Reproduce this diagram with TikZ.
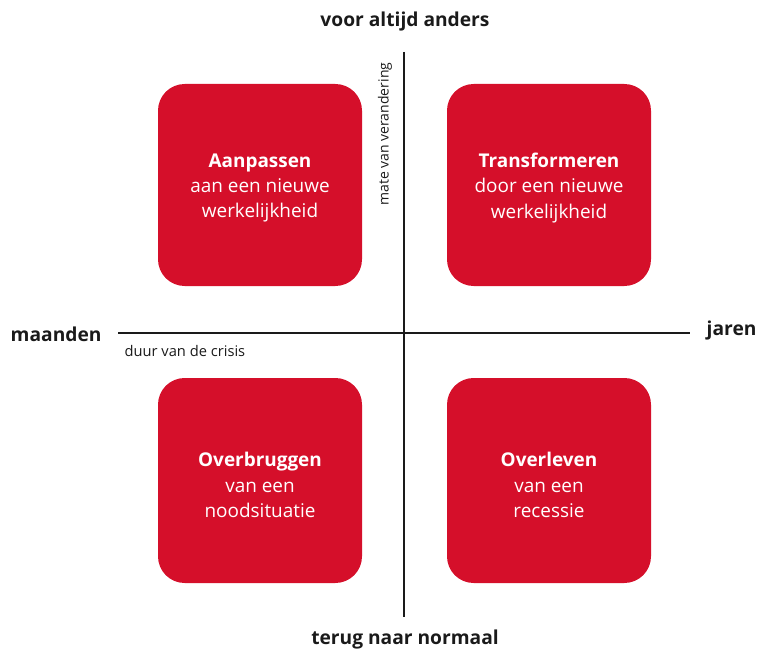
\documentclass[tikz,border=0pt]{standalone}
\usepackage{fontspec}
\setmainfont{Open Sans}
\definecolor{boxred}{HTML}{D50F2A}
\definecolor{axisgray}{HTML}{1A1A1A}
\begin{document}
\begin{tikzpicture}[x=0.75pt,y=-0.75pt,
  quad/.style={fill=boxred, rounded corners=20pt, draw=none},
  quadtext/.style={text=white, align=center, font=\fontsize{14.2}{19}\selectfont},
  axisline/.style={draw=axisgray, line width=2.2pt},
  endlabel/.style={font=\fontsize{14.4}{16}\bfseries\selectfont, text=axisgray},
  axislabel/.style={font=\fontsize{11}{12}\selectfont, text=axisgray}]
\useasboundingbox (0,0) rectangle (760,656);
% boxes
\fill[quad] (158,84) rectangle (362,286);
\fill[quad] (447,84) rectangle (651,286);
\fill[quad] (158,378) rectangle (362,583);
\fill[quad] (447,378) rectangle (651,583);
\node[quadtext] (tl) at (260,188) {\textbf{Aanpassen}\\aan een nieuwe\\werkelijkheid};
\node[quadtext] (tr) at (549,188) {\textbf{Transformeren}\\door een nieuwe\\werkelijkheid};
\node[quadtext] (bl) at (260,485) {\textbf{Overbruggen}\\van een\\noodsituatie};
\node[quadtext] (br) at (549,485) {\textbf{Overleven}\\van een\\recessie};
% axes
\coordinate (vtop) at (404,52);
\coordinate (vbot) at (404,617);
\coordinate (hl) at (118,333);
\coordinate (hr) at (690,333);
\draw[axisline] (vtop) -- (vbot);
\draw[axisline] (hl) -- (hr);
% end labels
\node[endlabel] (top) at (405,22) {voor altijd anders};
\node[endlabel] (bot) at (405,640) {terug naar normaal};
\node[endlabel, anchor=west] (left) at (6,334) {maanden};
\node[endlabel, anchor=west] (right) at (702,331) {jaren};
% axis labels
\node[axislabel, anchor=west] (dur) at (120,351) {duur van de crisis};
\node[axislabel, font=\fontsize{10.5}{12}\selectfont, rotate=90, anchor=east] (mate) at (385,58) {mate van verandering};
\end{tikzpicture}
\end{document}
